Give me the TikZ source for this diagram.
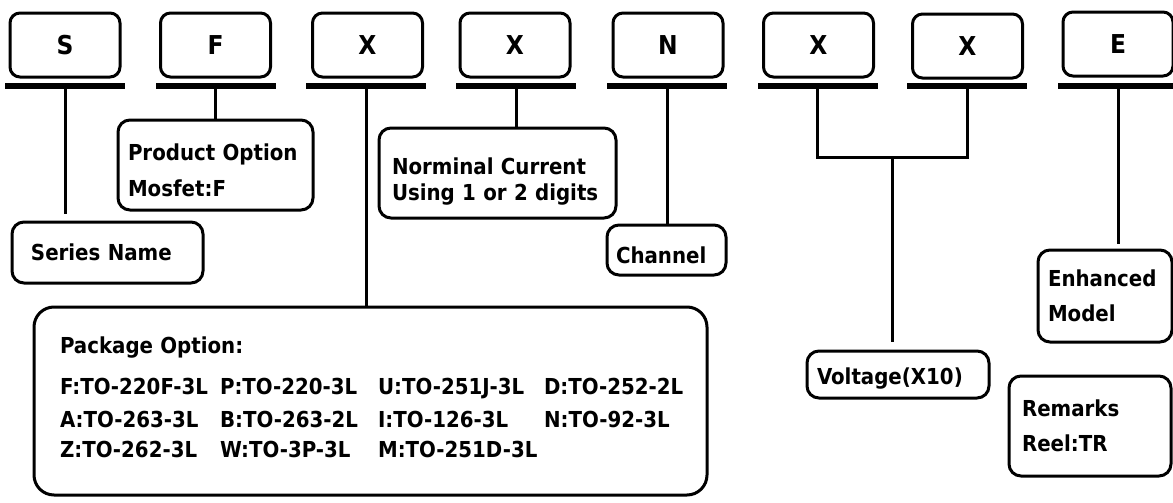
\documentclass[tikz,border=0pt]{standalone}
\usepackage{fontspec}
\setmainfont{DejaVu Sans Condensed}
\newcommand\tallstrut[1]{\rule{0pt}{#1}}
\begin{document}
\begin{tikzpicture}[x=0.5pt,y=-0.5pt,
  tbox/.style={draw, line width=1.5pt, rounded corners=5pt, minimum width=55pt, minimum height=32pt, inner sep=0pt, font=\fontsize{13}{14}\selectfont\bfseries},
  bar/.style={fill=black, minimum width=60pt, minimum height=3pt, inner sep=0pt},
  lbox/.style={draw, line width=1.5pt, rounded corners=6pt, align=left, inner ysep=0pt, font=\fontsize{11}{12}\selectfont\bfseries},
  conn/.style={line width=1.5pt}]
\useasboundingbox (0,0) rectangle (1173,503);
% top code boxes
\node[tbox] (bS) at (65,45) {S};
\node[tbox] (bF) at (215.5,45) {F};
\node[tbox] (bXa) at (367.5,45) {X};
\node[tbox] (bXb) at (515,45) {X};
\node[tbox] (bN) at (668,45) {N};
\node[tbox] (bXc) at (818.5,45) {X};
\node[tbox] (bXd) at (967.5,46) {X};
\node[tbox] (bE) at (1118,44) {E};
% bars
\node[bar] (rS) at (65,86) {};
\node[bar] (rF) at (215.5,86) {};
\node[bar] (rXa) at (366,86) {};
\node[bar] (rXb) at (516,86) {};
\node[bar] (rN) at (667,86) {};
\node[bar] (rXc) at (817.5,86) {};
\node[bar] (rXd) at (967,86) {};
\node[bar] (rE) at (1118,86) {};
% label boxes
\node[lbox, inner xsep=5pt, text width=87.5pt, minimum height=45pt] (prod) at (215.5,165) {\tallstrut{13.5pt}Product Option\\[6pt]Mosfet:F};
\node[lbox, inner xsep=9.5pt, text width=76.5pt, minimum height=30.5pt] (series) at (107.5,252.5) {Series Name};
\node[lbox, inner xsep=6.5pt, text width=105.5pt, minimum height=45pt] (nom) at (497.5,173) {\tallstrut{16.5pt}Norminal Current\\[1pt]Using 1 or 2 digits};
\node[lbox, inner xsep=4.5pt, text width=50.5pt, minimum height=25pt] (chan) at (666.5,250) {\tallstrut{13.5pt}Channel};
\node[lbox, inner xsep=13pt, text width=310.5pt, minimum height=94pt, rounded corners=10pt] (pkg) at (370.5,401) {%
\begin{tabular}{@{}p{80pt}@{}p{79pt}@{}p{83pt}@{}l@{}}
\multicolumn{4}{@{}l@{}}{Package Option:}\\[8.5pt]
F:TO-220F-3L & P:TO-220-3L & U:TO-251J-3L & D:TO-252-2L\\[4.5pt]
A:TO-263-3L & B:TO-263-2L & I:TO-126-3L & N:TO-92-3L\\[3pt]
Z:TO-262-3L & W:TO-3P-3L & M:TO-251D-3L &
\end{tabular}};
\node[lbox, inner xsep=5pt, text width=81pt, minimum height=23.5pt] (volt) at (898,374.5) {\tallstrut{12.5pt}Voltage(X10)};
\node[lbox, inner xsep=5pt, text width=57pt, minimum height=46pt] (enh) at (1105,296) {Enhanced\\[5.5pt]Model};
\node[lbox, inner xsep=6.5pt, text width=68pt, minimum height=50pt] (rem) at (1090,426) {Remarks\\[5.5pt]Reel:TR};
% connectors
\draw[conn, shorten >=3.5pt] (rS.south) -- (rS.south |- series.north);
\draw[conn] (rF.south) -- (rF.south |- prod.north);
\draw[conn] (rXa.south) -- (rXa.south |- pkg.north);
\draw[conn] (rXb.south) -- (rXb.south |- nom.north);
\draw[conn] (rN.south) -- (rN.south |- chan.north);
\coordinate (vj) at (892,157);
\draw[conn] (rXc.south) |- (vj) -| (rXd.south);
\draw[conn, shorten >=4pt] (vj) -- (vj |- volt.north);
\draw[conn, shorten >=2.5pt] (rE.south) -- (rE.south |- enh.north);
\end{tikzpicture}
\end{document}
